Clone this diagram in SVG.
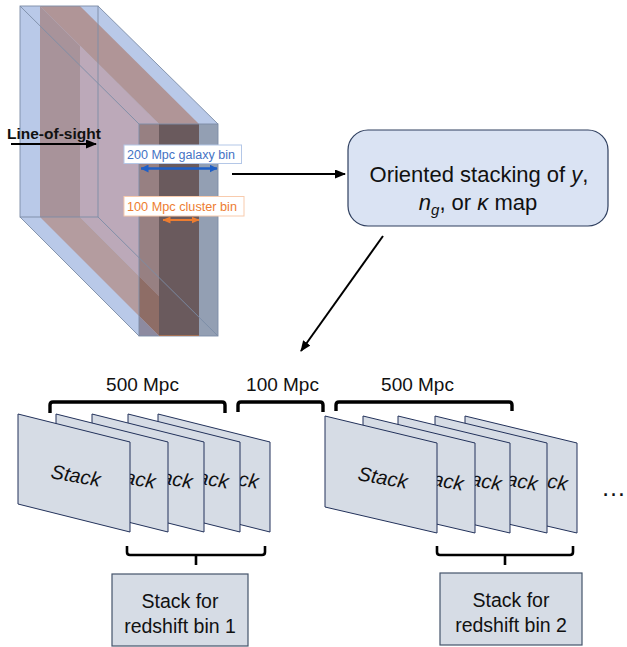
<svg xmlns="http://www.w3.org/2000/svg" width="627" height="647" viewBox="0 0 627 647">
<defs>
<style>
.edge{fill:none;stroke:#7c8ca6;stroke-width:0.9}
.card{fill:#d6dce5;stroke:#22315a;stroke-width:1}
.stk{font-family:"Liberation Sans",Arial,sans-serif;font-style:italic;font-size:20px;fill:#111}
.lbl{font-family:"Liberation Sans",Arial,sans-serif;fill:#111}
.br{fill:none;stroke:#000;stroke-width:3.4;stroke-linejoin:round;stroke-linecap:butt}
.brb{fill:none;stroke:#000;stroke-width:2.6;stroke-linejoin:round}
.conn{stroke:#000;stroke-width:2;fill:none}
.box{fill:#d6dce5;stroke:#44546a;stroke-width:1.2}
</style>
<marker id="ah" markerUnits="userSpaceOnUse" markerWidth="11" markerHeight="9" refX="10" refY="4.5" orient="auto"><path d="M0,0 L11,4.5 L0,9 z" fill="#000"/></marker>
<marker id="bh" markerUnits="userSpaceOnUse" markerWidth="8" markerHeight="8" refX="7.5" refY="4" orient="auto-start-reverse"><path d="M0,0 L8,4 L0,8 z" fill="#1f5fc6"/></marker>
<marker id="oh" markerUnits="userSpaceOnUse" markerWidth="8" markerHeight="7" refX="7.5" refY="3.5" orient="auto-start-reverse"><path d="M0,0 L8,3.5 L0,7 z" fill="#ed7d31"/></marker>
</defs>
<rect width="627" height="647" fill="#fff"/>

<g id="slab">
<polygon points="20,6 98,6 218,124 218,336 139,336 20,217" fill="#b9c9e8"/>
<polygon points="40,6 159,124 159,296 80,217 40,217" fill="#bca9b9"/>
<polygon points="40,6 80,6 199,124 159,124" fill="#b09597"/>
<polygon points="40,6 80,46 80,217 40,217" fill="#a8939a"/>
<polygon points="40,217 80,217 199,336 159,336" fill="#b49c9f"/>
<polygon points="139,124 159,124 159,296 139,276" fill="#978082"/>
<polygon points="139,276 159,296 159,336 139,316" fill="#8e6d66"/>
<polygon points="139,316 159,336 139,336" fill="#8d8aa0"/>
<rect x="159" y="124" width="40" height="212" fill="#6a5a5d"/>
<rect x="199" y="124" width="19" height="212" fill="#939fb3"/>
<line x1="159" y1="335.5" x2="199" y2="335.5" stroke="#c55a11" stroke-width="1.2"/>
<rect class="edge" x="20" y="6" width="78" height="211"/>
<rect class="edge" x="139" y="124" width="79" height="212"/>
<line class="edge" x1="20" y1="6" x2="139" y2="124"/>
<line class="edge" x1="98" y1="6" x2="218" y2="124"/>
<line class="edge" x1="20" y1="217" x2="139" y2="336"/>
<line class="edge" x1="98" y1="217" x2="218" y2="336"/>
</g>

<g id="line-of-sight">
<text class="lbl" x="7" y="139" font-size="15.5" font-weight="bold">Line-of-sight</text>
</g>

<g id="galaxy-bin">
<rect x="124" y="145" width="117.5" height="18.5" fill="#fff" stroke="#b4c7e7" stroke-width="1"/>
<text class="lbl" x="127" y="158.5" font-size="12.5" style="fill:#4472c4" textLength="108" lengthAdjust="spacingAndGlyphs">200 Mpc galaxy bin</text>
<line x1="141" y1="168.5" x2="217" y2="168.5" stroke="#1f5fc6" stroke-width="2.5" marker-start="url(#bh)" marker-end="url(#bh)"/>
</g>

<g id="cluster-bin">
<rect x="124" y="196.5" width="120" height="19.5" fill="#fff" stroke="#f8cbad" stroke-width="1"/>
<text class="lbl" x="127" y="211" font-size="12.5" style="fill:#ed7d31" textLength="110" lengthAdjust="spacingAndGlyphs">100 Mpc cluster bin</text>
<line x1="163" y1="220" x2="199" y2="220" stroke="#ed7d31" stroke-width="2" marker-start="url(#oh)" marker-end="url(#oh)"/>
</g>

<g id="stacking-box">
<rect x="348" y="130" width="260" height="96" rx="20" fill="#dae3f3" stroke="#2f3f5f" stroke-width="1.2"/>
<text class="lbl" x="479" y="181.5" font-size="22" text-anchor="middle">Oriented stacking of <tspan font-style="italic">y</tspan>,</text>
<text class="lbl" x="478" y="209.5" font-size="22" text-anchor="middle"><tspan font-style="italic">n</tspan><tspan font-style="italic" font-size="15" dy="5">g</tspan><tspan dy="-5">, or </tspan><tspan font-style="italic">κ</tspan> map</text>
</g>

<g id="connectors">
<line class="conn" x1="11" y1="144" x2="96" y2="144" marker-end="url(#ah)"/>
<line class="conn" x1="232" y1="174" x2="345" y2="174" marker-end="url(#ah)"/>
<line class="conn" x1="383" y1="236" x2="301" y2="351" marker-end="url(#ah)"/>
</g>

<g id="brackets">
<text class="lbl" x="142.5" y="391" font-size="19" text-anchor="middle">500 Mpc</text>
<text class="lbl" x="282.5" y="391" font-size="19" text-anchor="middle">100 Mpc</text>
<text class="lbl" x="417.5" y="391" font-size="19" text-anchor="middle">500 Mpc</text>
<path class="br" d="M50,413 V405 Q50,402 53,402 H222 Q225,402 225,405 V413"/>
<path class="br" d="M238,412 V405 Q238,402 241,402 H320 Q323,402 323,405 V412"/>
<path class="br" d="M336,411 V405 Q336,402 339,402 H509 Q512,402 512,405 V411"/>
<path class="brb" d="M127,546 V552 Q127,555 130,555 H262 Q265,555 265,552 V546 M196,555 V565"/>
<path class="brb" d="M437,546 V552 Q437,555 440,555 H570 Q573,555 573,552 V546 M505,555 V565"/>
</g>

<g id="stack-group-1">
<g id="s1-card5"><polygon class="card" points="158,414 270,442 270,532 158,504"/><text class="stk" x="208" y="480" transform="rotate(10 208 480)">Stack</text></g>
<g id="s1-card4"><polygon class="card" points="128,414 240,442 240,532 128,504"/><text class="stk" x="178" y="480" transform="rotate(10 178 480)">Stack</text></g>
<g id="s1-card3"><polygon class="card" points="92,414 204,442 204,532 92,504"/><text class="stk" x="142" y="480" transform="rotate(10 142 480)">Stack</text></g>
<g id="s1-card2"><polygon class="card" points="56,414 168,442 168,532 56,504"/><text class="stk" x="105" y="480" transform="rotate(10 105 480)">Stack</text></g>
<g id="s1-card1"><polygon class="card" points="18,414 130,442 130,532 18,504"/><text class="stk" x="50" y="478" transform="rotate(10 50 478)">Stack</text></g>
</g>

<g id="stack-group-2">
<g id="s2-card5"><polygon class="card" points="465,416 577,443 577,533 465,507"/><text class="stk" x="517" y="482" transform="rotate(10 517 482)">Stack</text></g>
<g id="s2-card4"><polygon class="card" points="435,416 547,443 547,533 435,507"/><text class="stk" x="487" y="482" transform="rotate(10 487 482)">Stack</text></g>
<g id="s2-card3"><polygon class="card" points="398,416 510,443 510,533 398,507"/><text class="stk" x="451" y="482" transform="rotate(10 451 482)">Stack</text></g>
<g id="s2-card2"><polygon class="card" points="363,416 475,443 475,533 363,507"/><text class="stk" x="413" y="482" transform="rotate(10 413 482)">Stack</text></g>
<g id="s2-card1"><polygon class="card" points="325,416 437,443 437,533 325,507"/><text class="stk" x="357" y="480" transform="rotate(10 357 480)">Stack</text></g>
</g>

<g id="ellipsis"><text class="lbl" x="601" y="496" font-size="25">…</text></g>

<g id="bin1">
<rect class="box" x="112" y="574" width="136" height="72"/>
<text class="lbl" x="180" y="608" font-size="19.5" text-anchor="middle">Stack for</text>
<text class="lbl" x="180" y="633" font-size="19.5" text-anchor="middle">redshift bin 1</text>
</g>
<g id="bin2">
<rect class="box" x="440" y="573" width="142" height="72"/>
<text class="lbl" x="511" y="607" font-size="19.5" text-anchor="middle">Stack for</text>
<text class="lbl" x="511" y="632" font-size="19.5" text-anchor="middle">redshift bin 2</text>
</g>
</svg>
